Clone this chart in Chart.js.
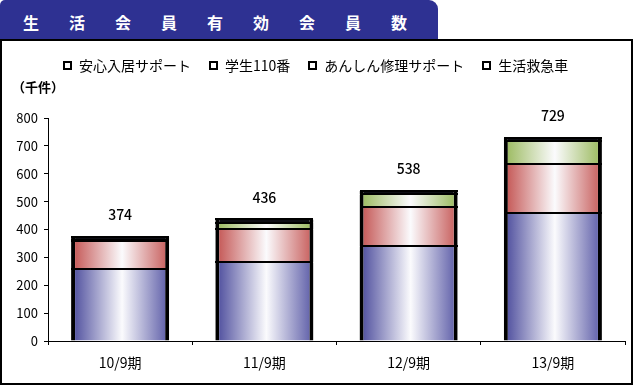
<!DOCTYPE html>
<html lang="ja">
<head>
<meta charset="utf-8">
<title>生活会員有効会員数</title>
<script src="https://cdn.jsdelivr.net/npm/chart.js@4.4.1/dist/chart.umd.min.js"></script>
<style>
  body { margin: 0; background: #fff; font-family: "Noto Sans CJK JP", sans-serif; color: #111; }
  #wrap { position: relative; width: 634px; height: 386px; overflow: hidden; }
  #banner {
    position: absolute; left: 0; top: 0; width: 415px; height: 39px;
    padding-left: 23px; background: #2e3192; color: #fff;
    border-radius: 5px 9px 0 0; font-size: 16px; font-weight: 700;
    letter-spacing: 30px; line-height: 45px; white-space: nowrap; overflow: hidden;
  }
  #frame {
    position: absolute; left: 0; top: 39px; width: 629px; height: 342px;
    border: 2px solid #000;
  }
  #chartBox { position: absolute; left: 0; top: 0; width: 634px; height: 386px; }
  #legend {
    position: absolute; left: 63px; top: 55px; display: flex; gap: 18px;
    font-size: 14px; line-height: 20px; white-space: nowrap; color: #000;
  }
  .legend-item { display: flex; align-items: center; }
  .legend-box {
    width: 9px; height: 9px; box-sizing: border-box; border: 2px solid #000;
    background: #fff; margin-right: 7px;
  }
  #unit { position: absolute; left: 12px; top: 77px; font-size: 13px; font-weight: 700; color: #000; }
</style>
</head>
<body>
<div id="wrap">
  <div id="banner">生活会員有効会員数</div>
  <div id="frame"></div>
  <div id="chartBox"><canvas id="memberChart"></canvas></div>
  <div id="legend"></div>
  <div id="unit">（千件）</div>
</div>
<script>
const periods = ["10/9期", "11/9期", "12/9期", "13/9期"];
const seriesNames = ["安心入居サポート", "学生110番", "あんしん修理サポート", "生活救急車"];
const nyukyoSupport = [257, 282, 340, 460];
const gakusei110 = [101, 119, 141, 174];
const shuriSupport = [4, 23, 45, 83];
const seikatsuKyukyu = [12, 12, 12, 12];
const totals = [374, 436, 538, 729];

const barPct = 0.68;

// horizontal "cylinder" shading: dark edges, light middle
const shade = (left, right, mid = "#fbfbfd") => (ctx) => {
  const chart = ctx.chart;
  if (!chart.chartArea || ctx.dataIndex === undefined) {
    return left;
  }
  const center = chart.scales.x.getPixelForValue(ctx.dataIndex);
  const half = (chart.chartArea.width / periods.length) * barPct / 2;
  const g = chart.ctx.createLinearGradient(center - half, 0, center + half, 0);
  g.addColorStop(0, left);
  g.addColorStop(0.52, mid);
  g.addColorStop(1, right);
  return g;
};

const legendEl = document.getElementById("legend");
seriesNames.forEach((name) => {
  const item = document.createElement("span");
  item.className = "legend-item";
  item.innerHTML = `<span class="legend-box"></span><span>${name}</span>`;
  legendEl.appendChild(item);
});

// crisp black line on top of every stacked segment
const separators = {
  id: "separators",
  afterDatasetsDraw(chart) {
    const { ctx } = chart;
    ctx.save();
    ctx.fillStyle = "#000";
    chart.data.datasets.forEach((ds, di) => {
      chart.getDatasetMeta(di).data.forEach((bar) => {
        const { x, y, width } = bar.getProps(["x", "y", "width"], true);
        ctx.fillRect(Math.round(x - width / 2), Math.round(y) - 1, Math.round(width), 2);
      });
    });
    ctx.restore();
  },
};

const totalLabels = {
  id: "totalLabels",
  afterDatasetsDraw(chart) {
    const { ctx } = chart;
    const meta = chart.getDatasetMeta(chart.data.datasets.length - 1);
    ctx.save();
    ctx.font = '500 14px "Noto Sans CJK JP"';
    ctx.fillStyle = "#000";
    ctx.textAlign = "center";
    ctx.textBaseline = "middle";
    meta.data.forEach((bar, i) => {
      ctx.fillText(String(totals[i]), bar.x, bar.y - 22);
    });
    ctx.restore();
  },
};

const segment = (label, data, fill) => ({
  label,
  data,
  backgroundColor: fill,
  borderColor: "#000",
  borderWidth: { top: 0, left: 4, right: 4, bottom: 0 },
  borderSkipped: false,
  inflateAmount: 0,
  barPercentage: barPct,
  categoryPercentage: 1,
});

new Chart(document.getElementById("memberChart"), {
  type: "bar",
  data: {
    labels: periods,
    datasets: [
      segment(seriesNames[0], nyukyoSupport, shade("#48489a", "#5a5aa6")),
      segment(seriesNames[1], gakusei110, shade("#c2504e", "#c65a58")),
      segment(seriesNames[2], shuriSupport, shade("#98b85a", "#98b85a")),
      segment(seriesNames[3], seikatsuKyukyu, "#0c0c12"),
    ],
  },
  options: {
    responsive: true,
    maintainAspectRatio: false,
    animation: false,
    layout: { padding: { top: 118, left: 0, right: 9, bottom: 0 } },
    plugins: {
      legend: { display: false },
      tooltip: { enabled: false },
    },
    scales: {
      x: {
        stacked: true,
        afterFit: (scale) => { scale.height = 45; },
        grid: { drawOnChartArea: false, offset: true, color: "#000", tickLength: 4 },
        border: { color: "#000", width: 1 },
        ticks: { color: "#000", padding: 9, font: { family: "Noto Sans CJK JP", size: 14 } },
      },
      y: {
        stacked: true,
        min: 0,
        max: 800,
        afterFit: (scale) => { scale.width = 48; },
        grid: { drawOnChartArea: false, color: "#000", tickLength: 4 },
        border: { color: "#000", width: 1 },
        ticks: { stepSize: 100, color: "#000", padding: 6, font: { family: "Noto Sans CJK JP", size: 13 } },
      },
    },
  },
  plugins: [separators, totalLabels],
});
</script>
</body>
</html>
